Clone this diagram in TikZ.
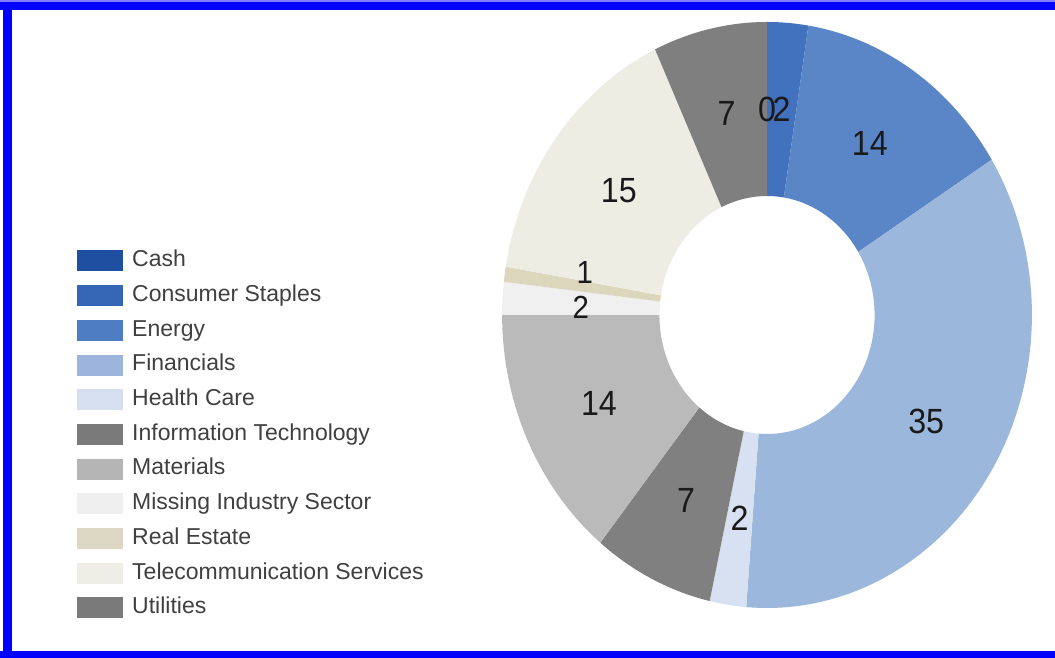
\documentclass[tikz,border=0pt]{standalone}
\usepackage{fontspec}
\setmainfont{Liberation Sans}
\definecolor{frameblue}{HTML}{0000FF}
\definecolor{framelight}{HTML}{8080FF}
\definecolor{legtxt}{HTML}{404040}
\definecolor{valtxt}{HTML}{1A1A1A}
% legend colours
\definecolor{lCash}{HTML}{1F4FA0}
\definecolor{lCons}{HTML}{3565B5}
\definecolor{lEnergy}{HTML}{4F7DC4}
\definecolor{lFin}{HTML}{9DB5DD}
\definecolor{lHealth}{HTML}{D6DFEF}
\definecolor{lIT}{HTML}{7A7A7A}
\definecolor{lMat}{HTML}{B5B5B5}
\definecolor{lMiss}{HTML}{EFEFEF}
\definecolor{lRE}{HTML}{DDD8C3}
\definecolor{lTel}{HTML}{EEEEE6}
\definecolor{lUtil}{HTML}{7A7A7A}
% slice colours
\definecolor{sCons}{HTML}{4271BE}
\definecolor{sEnergy}{HTML}{5A86C8}
\definecolor{sFin}{HTML}{9CB7DC}
\definecolor{sHealth}{HTML}{D7E1F1}
\definecolor{sIT}{HTML}{808080}
\definecolor{sMat}{HTML}{BABABA}
\definecolor{sMiss}{HTML}{F0F0F0}
\definecolor{sRE}{HTML}{DCD6BC}
\definecolor{sTel}{HTML}{EDEDE4}
\definecolor{sUtil}{HTML}{7F7F7F}
\newcommand{\donutslice}[3]{%
  \fill[#3] ({90-#1}:293) arc[start angle={90-#1}, end angle={90-#2}, radius=293]
    -- ({90-#2}:119) arc[start angle={90-#2}, end angle={90-#1}, radius=119] -- cycle;}
\tikzset{
  legbox/.style={fill=#1, draw=none, minimum width=46pt, minimum height=21pt, inner sep=0pt},
  legtext/.style={anchor=west, inner sep=0pt, text height=16.5pt, text depth=5pt,
    text=legtxt, font=\fontsize{23}{23}\selectfont},
  vallabel/.style={inner sep=0pt, text=valtxt, xscale=0.92, font=\fontsize{35}{35}\selectfont},
  smalllabel/.style={vallabel, font=\fontsize{32}{32}\selectfont},
}
\begin{document}
\begin{tikzpicture}[x=1pt,y=1pt]
\useasboundingbox (0,0) rectangle (1055,658);
\fill[white] (0,0) rectangle (1055,658);
% frame
\fill[framelight] (0,656) rectangle (1055,658);
\fill[frameblue] (0,648) rectangle (1055,656);
\fill[frameblue] (3,0) rectangle (12,656);
\fill[frameblue] (0,0) rectangle (1055,7);
% donut
\begin{scope}[shift={(767,343)}, xscale=0.904]
  \donutslice{0}{9}{sCons}
  \donutslice{9}{58}{sEnergy}
  \donutslice{58}{184.5}{sFin}
  \donutslice{184.5}{192.5}{sHealth}
  \donutslice{192.5}{219}{sIT}
  \donutslice{219}{270}{sMat}
  \donutslice{270}{276.5}{sMiss}
  \donutslice{276.5}{279.5}{sRE}
  \donutslice{279.5}{335}{sTel}
  \donutslice{335}{360}{sUtil}
  \node[vallabel] (vCash)   at ({90-0}:206) {0};
  \node[vallabel] (vCons)   at ({90-4.5}:206) {2};
  \node[vallabel] (vEnergy) at ({90-33.5}:206) {14};
  \node[vallabel] (vFin)    at ({90-121.25}:206) {35};
  \node[vallabel] (vHealth) at ({90-188.5}:206) {2};
  \node[vallabel] (vIT)     at ({90-205.75}:206) {7};
  \node[vallabel] (vMat)    at ({90-244.5}:206) {14};
  \node[smalllabel] (vMiss) at ({90-272}:206) {2};
  \node[smalllabel] (vRE)   at ({90-282}:206) {1};
  \node[vallabel] (vTel)    at ({90-307.25}:206) {15};
  \node[vallabel] (vUtil)   at ({90-347.5}:206) {7};
\end{scope}
% legend
\foreach \i/\c/\t in {0/lCash/Cash, 1/lCons/Consumer Staples, 2/lEnergy/Energy,
  3/lFin/Financials, 4/lHealth/Health Care, 5/lIT/Information Technology,
  6/lMat/Materials, 7/lMiss/Missing Industry Sector, 8/lRE/Real Estate,
  9/lTel/Telecommunication Services, 10/lUtil/Utilities}{
  \node[legbox=\c] (box\i) at (100, {658-261-34.7*\i}) {};
  \node[legtext] (lab\i) at (132, {658-261-34.7*\i}) {\t};
}
\end{tikzpicture}
\end{document}
